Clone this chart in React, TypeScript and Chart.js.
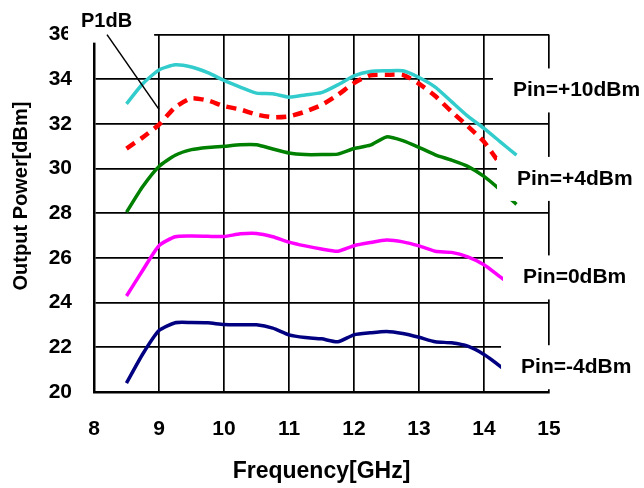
import React, { useEffect, useRef } from "react";
import { Chart, registerables } from "chart.js";

Chart.register(...registerables);

// ---- data ----
const frequencyGHz = [8.5, 8.75, 9.0, 9.25, 9.5, 9.75, 10.0, 10.25, 10.5, 10.75, 11.0, 11.25, 11.5, 11.75, 12.0, 12.25, 12.5, 12.75, 13.0, 13.25, 13.5, 13.75, 14.0, 14.25, 14.5];

const pinPlus10 = [32.9, 33.8, 34.42, 34.65, 34.55, 34.3, 33.95, 33.65, 33.38, 33.35, 33.2, 33.3, 33.4, 33.75, 34.15, 34.35, 34.38, 34.38, 34.08, 33.65, 33.0, 32.35, 31.8, 31.2, 30.6];
const p1dB = [30.9, 31.4, 31.97, 32.75, 33.15, 33.05, 32.8, 32.65, 32.42, 32.3, 32.34, 32.55, 32.85, 33.3, 33.83, 34.18, 34.2, 34.2, 33.8, 33.25, 32.55, 31.9, 31.2, 30.2, 29.3];
const pinPlus4 = [28.05, 29.2, 30.1, 30.6, 30.85, 30.95, 31.0, 31.07, 31.07, 30.88, 30.7, 30.63, 30.63, 30.65, 30.9, 31.05, 31.42, 31.25, 30.95, 30.62, 30.38, 30.1, 29.65, 29.05, 28.4];
const pin0 = [24.3, 25.45, 26.55, 26.95, 26.98, 26.97, 26.96, 27.08, 27.1, 26.95, 26.71, 26.54, 26.4, 26.3, 26.55, 26.69, 26.8, 26.72, 26.54, 26.3, 26.25, 26.05, 25.7, 25.15, 24.6];
const pinMinus4 = [20.4, 21.7, 22.75, 23.1, 23.11, 23.1, 23.02, 23.01, 23.01, 22.86, 22.56, 22.44, 22.38, 22.25, 22.56, 22.65, 22.71, 22.62, 22.45, 22.25, 22.2, 22.05, 21.68, 21.15, 20.55];

const seriesNames = ["Pin=+10dBm", "P1dB", "Pin=+4dBm", "Pin=0dBm", "Pin=-4dBm"];

const xMin = 8;
const xMax = 15;
const xStep = 1;
const yMin = 20;
const yMax = 36;
const yStep = 2;

const xTitle = "Frequency[GHz]";
const yTitle = "Output Power[dBm]";

// text labels anchored in data coordinates (x = left edge of text, y = text centre)
const labelTexts = ["Pin=+10dBm", "Pin=+4dBm", "Pin=0dBm", "Pin=-4dBm", "P1dB"];
const labelX = [14.446, 14.508, 14.6, 14.57, 7.8];
const labelY = [33.5, 29.54, 25.13, 21.11, 36.58];

// P1dB leader line (data coordinates)
const leaderFrom = { x: 8.2, y: 36.0 };
const leaderTo = { x: 9.0, y: 32.65 };

const FONT = '"Liberation Sans", Arial, Helvetica, sans-serif';

const toPoints = (ys: number[]) => frequencyGHz.map((f, i) => ({ x: f, y: ys[i] }));

const annotationPlugin = {
  id: "annotations",
  afterDraw(chart: any) {
    const ctx = chart.ctx as CanvasRenderingContext2D;
    const xs = chart.scales.x;
    const ys = chart.scales.y;
    const W = chart.width;
    ctx.save();
    ctx.textBaseline = "middle";
    ctx.textAlign = "left";
    labelTexts.forEach((t, i) => {
      const isP1 = t === "P1dB";
      const size = isP1 ? 20 : 21;
      ctx.font = `bold ${size}px ${FONT}`;
      const tx = xs.getPixelForValue(labelX[i]);
      const ty = ys.getPixelForValue(labelY[i]);
      const tw = ctx.measureText(t).width;
      // white box behind text
      ctx.fillStyle = "#ffffff";
      if (isP1) {
        ctx.fillRect(tx - 13, 0, tw + 13 + 22, ty + 21);
      } else {
        ctx.fillRect(tx - 20, ty - 22, W - (tx - 20), 44);
      }
      ctx.fillStyle = "#000000";
      ctx.fillText(t, tx, ty);
    });

    // leader line
    ctx.strokeStyle = "#000000";
    ctx.lineWidth = 1.5;
    ctx.beginPath();
    ctx.moveTo(xs.getPixelForValue(leaderFrom.x), ys.getPixelForValue(leaderFrom.y));
    ctx.lineTo(xs.getPixelForValue(leaderTo.x), ys.getPixelForValue(leaderTo.y));
    ctx.stroke();

    // axis titles
    ctx.fillStyle = "#000000";
    ctx.textAlign = "center";
    ctx.textBaseline = "middle";
    ctx.font = `bold 23px ${FONT}`;
    ctx.fillText(xTitle, (chart.chartArea.left + chart.chartArea.right) / 2, 472);
    ctx.save();
    ctx.translate(21, 196);
    ctx.rotate(-Math.PI / 2);
    ctx.font = `bold 20px ${FONT}`;
    ctx.fillText(yTitle, 0, 0);
    ctx.restore();
    ctx.restore();
  },
};

export default function App() {
  const ref = useRef<HTMLCanvasElement | null>(null);

  useEffect(() => {
    const canvas = ref.current;
    if (!canvas) return;
    const tickFont = { family: FONT, size: 21, weight: "bold" as const };
    const chart = new Chart(canvas, {
      type: "line",
      data: {
        datasets: [
          { label: seriesNames[0], data: toPoints(pinPlus10), borderColor: "#33CCCC", borderWidth: 3.5 },
          { label: seriesNames[1], data: toPoints(p1dB), borderColor: "#FF0000", borderWidth: 4.5, borderDash: [10, 7] },
          { label: seriesNames[2], data: toPoints(pinPlus4), borderColor: "#008000", borderWidth: 3.5 },
          { label: seriesNames[3], data: toPoints(pin0), borderColor: "#FF00FF", borderWidth: 3.5 },
          { label: seriesNames[4], data: toPoints(pinMinus4), borderColor: "#000080", borderWidth: 3.5 },
        ],
      },
      options: {
        responsive: false,
        animation: false,
        events: [],
        layout: { padding: { left: 0, top: 33, right: 95, bottom: 0 } },
        plugins: { legend: { display: false }, tooltip: { enabled: false }, title: { display: false } },
        elements: {
          point: { radius: 0 },
          line: { tension: 0.2, fill: false },
        },
        scales: {
          x: {
            type: "linear",
            min: xMin,
            max: xMax,
            ticks: { stepSize: xStep, padding: 25, color: "#000", font: tickFont, autoSkip: false, maxRotation: 0 },
            grid: { color: "#000", lineWidth: 1.7, drawTicks: false },
            border: { color: "#000", width: 2.5 },
            afterFit: (s: any) => {
              s.height = 96;
            },
          },
          y: {
            type: "linear",
            min: yMin,
            max: yMax,
            ticks: { stepSize: yStep, padding: 22, color: "#000", font: tickFont },
            grid: { color: "#000", lineWidth: 1.7, drawTicks: false },
            border: { color: "#000", width: 2.5 },
            afterFit: (s: any) => {
              s.width = 94;
            },
          },
        },
      },
      plugins: [annotationPlugin],
    });
    return () => chart.destroy();
  }, []);

  return (
    <div style={{ position: "fixed", left: 0, top: 0, width: 644, height: 488, background: "#ffffff" }}>
      <canvas ref={ref} width={644} height={488} style={{ display: "block" }} />
    </div>
  );
}
